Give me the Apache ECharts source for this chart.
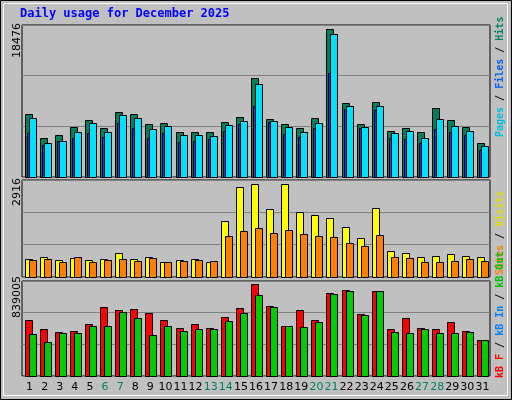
<!DOCTYPE html><html><head><meta charset="utf-8">
<script src="https://cdn.jsdelivr.net/npm/echarts@6/dist/echarts.min.js"></script>
<style>html,body{margin:0;padding:0;background:#c0c0c0}#c{width:512px;height:400px}</style></head><body><div id="c"></div><script>
const days=['1','2','3','4','5','6','7','8','9','10','11','12','13','14','15','16','17','18','19','20','21','22','23','24','25','26','27','28','29','30','31'];
const weekend=['6','7','13','14','20','21','27','28'];
const hits=[7817,4807,5183,6187,7065,6061,8068,7817,6563,6688,5560,5560,5560,6813,7440,12331,7190,6563,6061,7315,18476,9196,6563,9321,5685,6061,5560,8569,7064,6186,4305];
const files=[7315,4305,4556,5560,6688,5560,7691,7315,5936,6312,5183,5183,5058,6437,6939,11579,6939,6186,5560,6688,17849,8820,6186,8820,5434,5685,4807,7190,6312,5685,3929];
const pages=[5434,4055,4556,4807,5434,4932,6688,6061,4807,5434,4431,4556,4682,5685,6563,8820,6813,5309,4932,6061,12958,8444,6061,8318,4807,4682,4305,5936,5560,5183,3428];
const visits=[579,642,548,611,548,579,769,579,642,484,548,579,484,1748,2822,2916,2127,2916,2032,1938,1843,1558,1211,2159,832,769,642,674,737,674,642];
const sites=[548,579,484,642,484,548,579,516,611,484,516,548,516,1274,1432,1527,1369,1464,1337,1274,1243,1085,990,1306,642,611,484,484,516,579,516];
const kbF=[508000,426000,407000,416000,472000,628000,600000,609000,573000,508000,435000,472000,435000,536000,619000,839005,637000,462000,600000,508000,756000,784000,563000,775000,426000,527000,435000,426000,490000,416000,325000];
const kbOut=[380000,315000,398000,398000,462000,462000,582000,527000,371000,453000,416000,426000,426000,499000,573000,738000,628000,453000,444000,490000,747000,775000,554000,775000,407000,398000,426000,398000,398000,407000,325000];
const maxLabels=['18476','2916','839005'];
const axisMax=[18975,3051,869200];

const chart=echarts.init(document.getElementById('c'));
function bar(gi,arr,color,x0,x1,z){
  return {type:'custom',xAxisIndex:gi,yAxisIndex:gi,z:z,
    data:arr.map((v,i)=>[i,v]),
    renderItem:function(p,api){
      const top=api.coord([api.value(0),api.value(1)]);
      const base=api.coord([api.value(0),0]);
      const c=Math.round(top[0]);
      return {type:'rect',shape:{x:c+x0+0.5,y:Math.round(top[1])+0.5,width:x1-x0,height:Math.round(base[1]-top[1])},
        style:{fill:color,stroke:'#000',lineWidth:1}};
    }};
}
const grids=[{left:22,top:25,width:468,height:152},{left:22,top:180,width:468,height:97},{left:22,top:281,width:468,height:95}];
const opt={animation:false,backgroundColor:'#c0c0c0',
  grid:grids.map(g=>Object.assign({show:true,borderColor:'#000',borderWidth:1,backgroundColor:'#c0c0c0'},g)),
  xAxis:grids.map((g,i)=>({type:'category',gridIndex:i,data:days,axisLine:{show:false},axisTick:{show:false},
    axisLabel:{show:i===2,margin:6,fontFamily:'DejaVu Sans',fontSize:11,interval:0,
      color:function(v){return weekend.includes(v)?'#008060':'#000';}}})),
  yAxis:grids.map((g,i)=>({type:'value',gridIndex:i,min:0,max:axisMax[i],interval:axisMax[i]/3,
    axisLabel:{show:false},axisLine:{show:false},axisTick:{show:false},splitLine:{lineStyle:{color:'#808080',width:1}}})),
  series:[
    bar(0,hits,'#00805a',-5,2,3),bar(0,pages,'#0040ff',-3,-1,5),bar(0,files,'#00e0ff',-1,6,4),
    bar(1,visits,'#ffff00',-5,2,3),bar(1,sites,'#ff8000',-1,6,4),
    bar(2,kbF,'#ff0000',-5,2,3),bar(2,kbOut,'#00cc00',-1,6,4)
  ],
  graphic:[
    {type:'rect',shape:{x:0.5,y:0.5,width:511,height:399},style:{fill:'none',stroke:'#000',lineWidth:1}},
    {type:'rect',shape:{x:3.5,y:3.5,width:504,height:392},style:{fill:'none',stroke:'#fff',lineWidth:1}},
    {type:'text',left:20,top:8,style:{text:'Daily usage for December 2025',fill:'#0000ff',font:'bold 12px "DejaVu Sans Mono"'}},
    {type:'text',x:12,y:58,rotation:Math.PI/2,style:{text:maxLabels[0],fill:'#000',font:'11px "DejaVu Sans"'}},
    {type:'text',x:12,y:206,rotation:Math.PI/2,style:{text:maxLabels[1],fill:'#000',font:'11px "DejaVu Sans"'}},
    {type:'text',x:12,y:318,rotation:Math.PI/2,style:{text:maxLabels[2],fill:'#000',font:'11px "DejaVu Sans"'}},
    {type:'text',x:495,y:137,rotation:Math.PI/2,style:{rich:{a:{fill:'#00c0e0'},b:{fill:'#0060ff'},c:{fill:'#008060'},s:{fill:'#000'}},
      text:'{a|Pages}{s| / }{b|Files}{s| / }{c|Hits}',font:'bold 10px "DejaVu Sans Mono"'}},
    {type:'text',x:495,y:275,rotation:Math.PI/2,style:{rich:{a:{fill:'#ff8000'},b:{fill:'#e0e000'},s:{fill:'#000'}},
      text:'{a|Sites}{s| / }{b|Visits}',font:'bold 10px "DejaVu Sans Mono"'}},
    {type:'text',x:495,y:378,rotation:Math.PI/2,style:{rich:{a:{fill:'#ff0000'},b:{fill:'#0080ff'},c:{fill:'#00c000'},s:{fill:'#000'}},
      text:'{a|kB F}{s| / }{b|kB In}{s| / }{c|kB Out}',font:'bold 10px "DejaVu Sans Mono"'}}
  ]};
chart.setOption(opt);
</script></body></html>
